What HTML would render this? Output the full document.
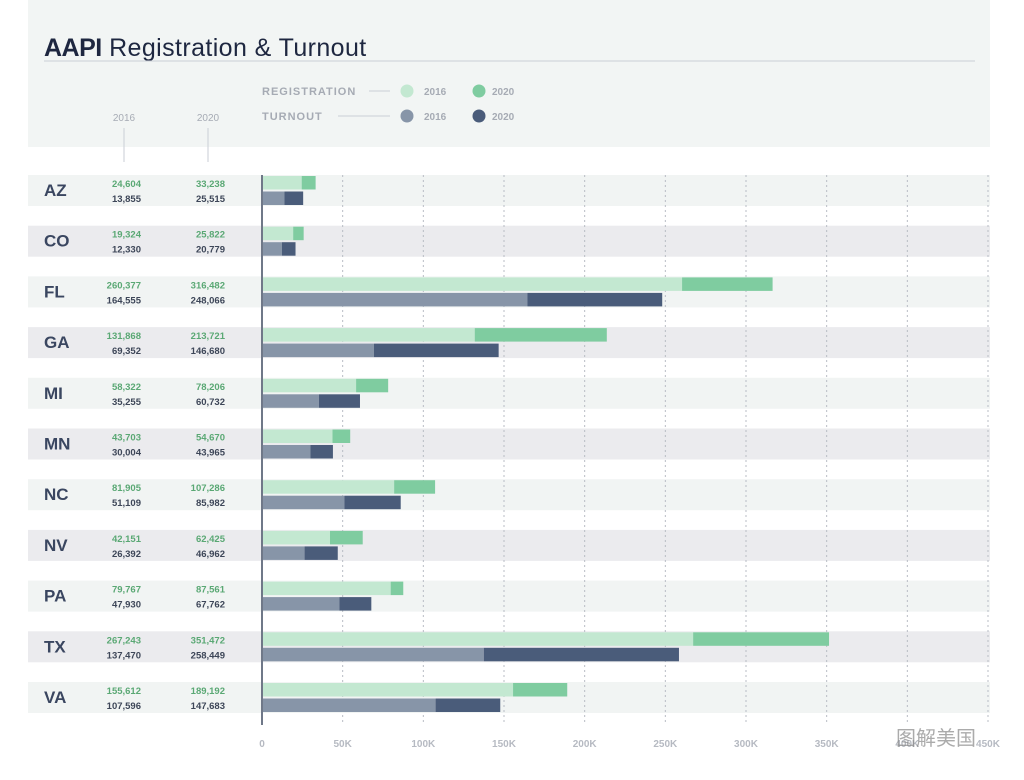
<!DOCTYPE html>
<html><head><meta charset="utf-8">
<style>
body{margin:0;width:1024px;height:775px;background:#fff;overflow:hidden;font-family:"Liberation Sans","Noto Sans CJK SC",sans-serif}
svg text{font-family:"Liberation Sans","Noto Sans CJK SC",sans-serif}
</style></head><body>
<svg id="c" width="1024" height="775">
<rect x="28" y="0" width="962" height="147" fill="#f2f5f4"/>
<text x="44" y="56" font-size="25" fill="#1e2740" letter-spacing="0.4"><tspan font-weight="bold" letter-spacing="-0.5">AAPI</tspan> Registration &amp; Turnout</text>
<line x1="44" y1="61" x2="975" y2="61" stroke="#c9ced6" stroke-width="1"/>
<g font-size="11" font-weight="bold" fill="#a6abb4">
<text x="262" y="95" letter-spacing="1">REGISTRATION</text>
<line x1="369" y1="91" x2="390" y2="91" stroke="#c9ced6"/>
<text x="262" y="120" letter-spacing="1">TURNOUT</text>
<line x1="338" y1="116" x2="390" y2="116" stroke="#c9ced6"/>
<circle cx="407" cy="91" r="6.5" fill="#c3e8d1"/>
<text x="424" y="95" font-size="10">2016</text>
<circle cx="479" cy="91" r="6.5" fill="#7fcca0"/>
<text x="492" y="95" font-size="10">2020</text>
<circle cx="407" cy="116" r="6.5" fill="#8795a8"/>
<text x="424" y="120" font-size="10">2016</text>
<circle cx="479" cy="116" r="6.5" fill="#4a5c7a"/>
<text x="492" y="120" font-size="10">2020</text>
</g>
<g font-size="10" fill="#a6abb4">
<text x="124" y="121" text-anchor="middle">2016</text>
<line x1="124" y1="128" x2="124" y2="162" stroke="#c9ced6"/>
<text x="208" y="121" text-anchor="middle">2020</text>
<line x1="208" y1="128" x2="208" y2="162" stroke="#c9ced6"/>
</g>
<g id="rows"></g>
<g id="grid"></g>
<g id="bars"></g>
<text x="896" y="745" font-size="20" fill="#888" opacity="0.7">图解美国</text>
</svg>
<script>
const states=["AZ","CO","FL","GA","MI","MN","NC","NV","PA","TX","VA"];
const reg2016=[24604,19324,260377,131868,58322,43703,81905,42151,79767,267243,155612];
const reg2020=[33238,25822,316482,213721,78206,54670,107286,62425,87561,351472,189192];
const turn2016=[13855,12330,164555,69352,35255,30004,51109,26392,47930,137470,107596];
const turn2020=[25515,20779,248066,146680,60732,43965,85982,46962,67762,258449,147683];
const ticks=[0,50000,100000,150000,200000,250000,300000,350000,400000,450000];
const tickLabels=["0","50K","100K","150K","200K","250K","300K","350K","400K","450K"];
const NS="http://www.w3.org/2000/svg";
const x=v=>262+v*(726/450000);
const rowTop=i=>175+i*50.7;
function mk(tag,attrs,parent,txt){const e=document.createElementNS(NS,tag);for(const k in attrs)e.setAttribute(k,attrs[k]);if(txt!==undefined)e.textContent=txt;parent.appendChild(e);return e;}
const fmt=v=>v.toLocaleString("en-US");
const rows=document.getElementById("rows"),grid=document.getElementById("grid"),bars=document.getElementById("bars");
states.forEach((s,i)=>{
  const t=rowTop(i);
  const band=mk("rect",{x:28,y:t,width:962,height:31,fill:i%2?"#ebebee":"#f1f4f3"},rows);
  
  
  const lab=mk("text",{x:44,y:t+21,"font-size":17,"font-weight":"bold",fill:"#3a4660"},rows,s);
  
  
  const vals=[[reg2016[i],141,t+12,"#5aa874"],[reg2020[i],225,t+12,"#5aa874"],[turn2016[i],141,t+27,"#3d4658"],[turn2020[i],225,t+27,"#3d4658"]];
  vals.forEach((v,j)=>{
    const e=mk("text",{x:v[1],y:v[2],"font-size":9.5,"font-weight":"bold","text-anchor":"end",fill:v[3]},rows,fmt(v[0]));
    
    
  });
  const specs=[[0,reg2016[i],t+1,"#c3e8d1","bar-reg-2016-"],[reg2016[i],reg2020[i],t+1,"#7fcca0","bar-reg-2020-"],[0,turn2016[i],t+16.5,"#8795a8","bar-turnout-2016-"],[turn2016[i],turn2020[i],t+16.5,"#4a5c7a","bar-turnout-2020-"]];
  specs.forEach(b=>{
    const r=mk("rect",{x:x(b[0]),y:b[2],width:Math.max(0,x(b[1])-x(b[0])),height:13.5,fill:b[3]},bars);
    
    
  });
});
ticks.forEach((v,k)=>{
  if(k>0){const l=mk("line",{x1:x(v),y1:175,x2:x(v),y2:725,stroke:"#b8bcc4","stroke-dasharray":"2,3"},grid);
  
  }
  const tl=mk("text",{x:x(v),y:747,"font-size":10,"font-weight":"bold","text-anchor":"middle",fill:"#b6bac2"},grid,tickLabels[k]);
  
  
});
const ax=mk("line",{x1:262,y1:175,x2:262,y2:725,stroke:"#6f7888","stroke-width":2},bars);


</script>
</body></html>
